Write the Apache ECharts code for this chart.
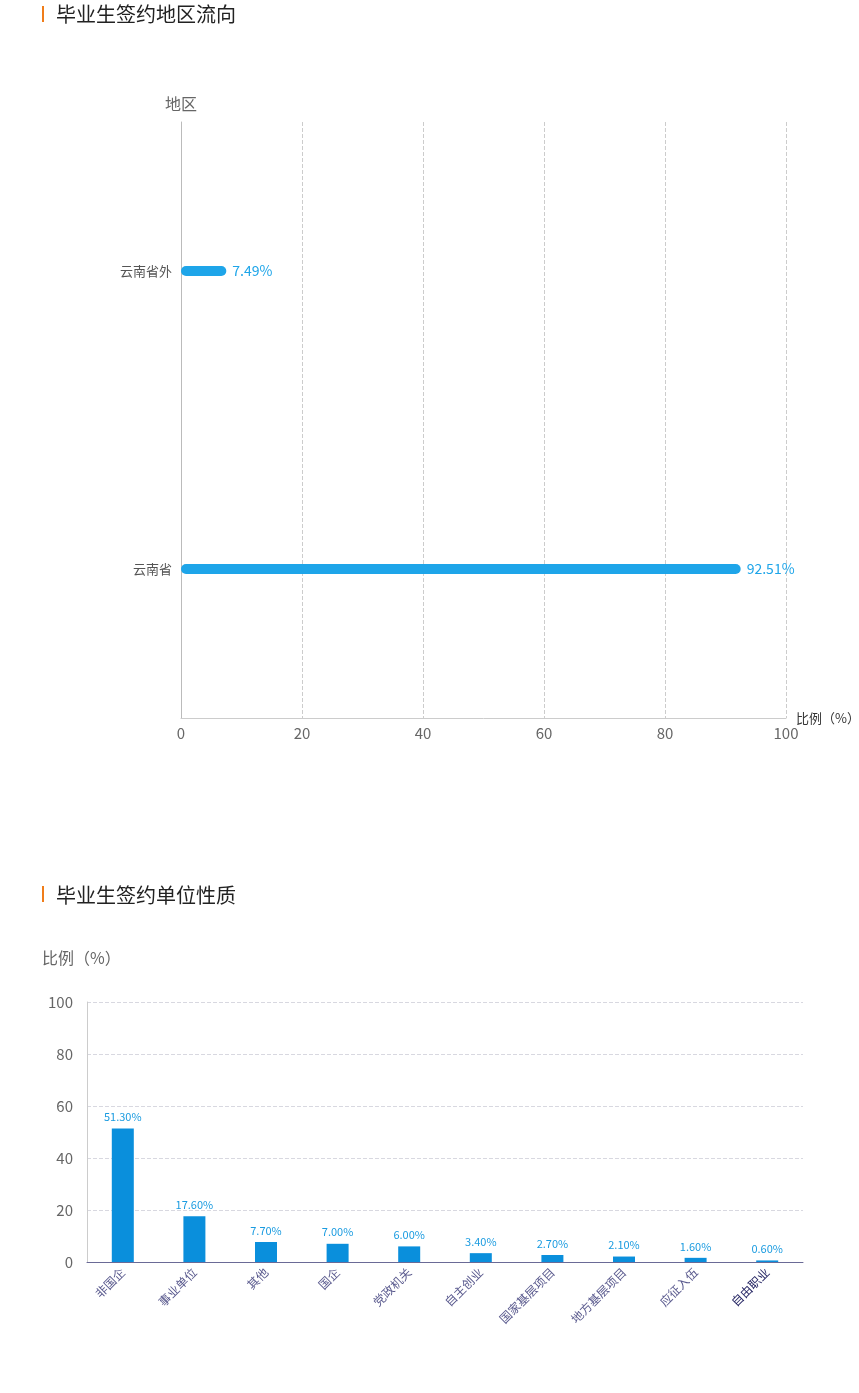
<!DOCTYPE html>
<html><head><meta charset="utf-8">
<script src="https://cdn.jsdelivr.net/npm/echarts@6/dist/echarts.min.js"></script>
<style>html,body{margin:0;padding:0;background:#fff}#c{width:859px;height:1393px}</style>
</head><body><div id="c"></div>
<script>
const title1 = '毕业生签约地区流向';
const title2 = '毕业生签约单位性质';
const regionCats = ['云南省', '云南省外'];
const regionVals = [92.51, 7.49];
const regionTicks = [0, 20, 40, 60, 80, 100];
const unitCats = ['非国企', '事业单位', '其他', '国企', '党政机关', '自主创业', '国家基层项目', '地方基层项目', '应征入伍', '自由职业'];
const unitVals = [51.3, 17.6, 7.7, 7.0, 6.0, 3.4, 2.7, 2.1, 1.6, 0.6];
const unitTicks = [0, 20, 40, 60, 80, 100];

const font = '"Noto Sans CJK SC", "Noto Sans", sans-serif';
const chart = echarts.init(document.getElementById('c'));
chart.setOption({
  backgroundColor: '#fff',
  textStyle: { fontFamily: font },
  animation: false,
  graphic: [
    { type: 'rect', shape: { x: 42, y: 6, width: 2, height: 16 }, style: { fill: '#f07d1a' } },
    { type: 'text', x: 56, y: 14, style: { text: title1, fill: '#222', font: '20px ' + font, verticalAlign: 'middle' } },
    { type: 'rect', shape: { x: 42, y: 886, width: 2, height: 16 }, style: { fill: '#f07d1a' } },
    { type: 'text', x: 56, y: 895, style: { text: title2, fill: '#222', font: '20px ' + font, verticalAlign: 'middle' } }
  ],
  grid: [
    { left: 181, top: 122, right: 73, bottom: 675, outerBoundsMode: 'none', containLabel: false },
    { left: 87, top: 1002, right: 56, bottom: 131, outerBoundsMode: 'none', containLabel: false }
  ],
  xAxis: [
    {
      gridIndex: 0, type: 'value', min: regionTicks[0], max: regionTicks[regionTicks.length - 1], interval: 20,
      name: '比例（%）', nameLocation: 'end', nameGap: 10,
      nameTextStyle: { fontSize: 13, color: '#333', fontFamily: font },
      axisLine: { show: true, lineStyle: { color: '#ccc' } },
      axisTick: { show: false },
      axisLabel: { fontSize: 15, color: '#666', margin: 8, fontFamily: font },
      splitLine: { show: true, lineStyle: { type: 'dashed', color: '#ccc' } }
    },
    {
      gridIndex: 1, type: 'category', data: unitCats.map((c, i) => i === unitCats.length - 1 ? { value: c, textStyle: { color: '#1f1f5f' } } : c),
      axisLine: { lineStyle: { color: '#6a6a96' } },
      axisTick: { alignWithLabel: true, lineStyle: { color: '#6a6a96' } },
      axisLabel: { rotate: 45, fontSize: 12, color: '#5a5a8e', margin: 8, fontFamily: font, interval: 0 }
    }
  ],
  yAxis: [
    {
      gridIndex: 0, type: 'category', data: regionCats,
      name: '地区', nameLocation: 'end', nameGap: 10,
      nameTextStyle: { fontSize: 16, color: '#666', fontFamily: font },
      axisLine: { lineStyle: { color: '#bbb' } },
      axisTick: { show: false },
      axisLabel: { fontSize: 13, color: '#555', margin: 9, fontFamily: font }
    },
    {
      gridIndex: 1, type: 'value', min: unitTicks[0], max: unitTicks[unitTicks.length - 1], interval: 20,
      name: '比例（%）', nameLocation: 'end', nameGap: 36,
      nameTextStyle: { fontSize: 16, color: '#666', fontFamily: font, align: 'left', padding: [0, 0, 0, -45] },
      axisLine: { show: true, lineStyle: { color: '#ccc' } },
      axisTick: { show: false },
      axisLabel: { fontSize: 15, color: '#666', margin: 14, fontFamily: font },
      splitLine: { show: true, lineStyle: { type: 'dashed', color: '#d8d8e0' } }
    }
  ],
  series: [
    {
      type: 'bar', xAxisIndex: 0, yAxisIndex: 0, data: regionVals, barWidth: 10,
      itemStyle: { color: '#1ea5e9', borderRadius: 5 },
      label: { show: true, position: 'right', distance: 6, color: '#1ea5e9', fontSize: 14, formatter: '{c}%', fontFamily: font }
    },
    {
      type: 'bar', xAxisIndex: 1, yAxisIndex: 1, data: unitVals, barWidth: 22,
      itemStyle: { color: '#0a8fdc' },
      label: { show: true, position: 'top', distance: 6, color: '#1a9be0', fontSize: 11, fontFamily: font,
        formatter: p => p.value.toFixed(2) + '%' }
    }
  ]
});
</script></body></html>
